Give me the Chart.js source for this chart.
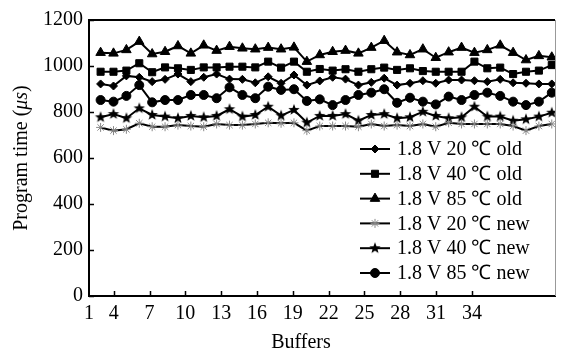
<!DOCTYPE html>
<html>
<head>
<meta charset="utf-8">
<script src="https://cdn.jsdelivr.net/npm/chart.js@4.4.1/dist/chart.umd.min.js"></script>
<style>
  html, body { margin: 0; padding: 0; background: #fff; }
  #wrap { width: 562px; height: 358px; }
</style>
</head>
<body>
<div id="wrap"><canvas id="chart" width="562" height="358"></canvas></div>
<script>
// Buffer index (x) and program time readings (µs)
const buffers = [1, 2, 3, 4, 5, 6, 7, 8, 9, 10, 11, 12, 13, 14, 15, 16, 17, 18,
                 19, 20, 21, 22, 23, 24, 25, 26, 27, 28, 29, 30, 31, 32, 33, 34, 35, 36];
const old20 = [922, 913, 957, 951, 932, 942, 965, 932, 951, 965, 943, 942, 927, 953, 925, 961, 917, 935,
               951, 943, 917, 929, 947, 917, 925, 936, 925, 939, 939, 936, 932, 942, 927, 925, 922, 922];
const old40 = [975, 975, 980, 1012, 973, 994, 990, 983, 994, 994, 997, 997, 994, 1019, 993, 1019, 975, 987,
               980, 986, 975, 986, 993, 983, 990, 978, 975, 975, 975, 1019, 990, 993, 965, 975, 980, 1004];
const old85 = [1058, 1055, 1070, 1106, 1052, 1062, 1087, 1055, 1090, 1067, 1084, 1077, 1073, 1080, 1073, 1081, 1019, 1048,
               1062, 1067, 1055, 1080, 1110, 1060, 1048, 1073, 1036, 1060, 1080, 1058, 1070, 1090, 1058, 1026, 1044, 1038];
const new20 = [733, 719, 725, 751, 736, 736, 743, 739, 736, 748, 743, 743, 748, 753, 751, 753, 719, 739,
               739, 739, 736, 748, 739, 743, 739, 748, 736, 753, 748, 748, 748, 748, 739, 719, 739, 748];
const new40 = [777, 791, 773, 816, 787, 780, 773, 783, 777, 783, 812, 780, 787, 823, 784, 809, 754, 783,
               783, 791, 762, 787, 791, 773, 777, 801, 783, 773, 777, 823, 780, 780, 762, 768, 780, 797];
const new85 = [852, 845, 870, 917, 842, 852, 852, 874, 874, 860, 907, 874, 860, 910, 896, 899, 848, 855,
               830, 852, 874, 884, 899, 840, 862, 845, 833, 867, 852, 874, 884, 870, 845, 830, 845, 884];
const seriesLabels = ['1.8 V 20 ℃ old', '1.8 V 40 ℃ old', '1.8 V 85 ℃ old',
                      '1.8 V 20 ℃ new', '1.8 V 40 ℃ new', '1.8 V 85 ℃ new'];
const xTicks = ['1', '4', '7', '10', '13', '16', '19', '22', '25', '28', '31', '34'];

const FONT = '"Liberation Serif", "Times New Roman", serif';
Chart.defaults.font.family = FONT;
Chart.defaults.font.size = 20;
Chart.defaults.color = '#000';

// filled five point star marker
function makeStar(r) {
    const s = Math.ceil(r * 2 + 2);
    const c = document.createElement('canvas');
    c.width = s; c.height = s;
    const g = c.getContext('2d');
    g.beginPath();
    for (let k = 0; k < 10; k++) {
        const a = -Math.PI / 2 + k * Math.PI / 5;
        const rad = k % 2 ? r * 0.42 : r;
        g.lineTo(s / 2 + rad * Math.cos(a), s / 2 + rad * Math.sin(a));
    }
    g.closePath();
    g.fillStyle = '#000';
    g.fill();
    return c;
}

const styles = [
    { pointStyle: 'rectRot', radius: 4, color: '#000' },
    { pointStyle: 'rect', radius: 5, color: '#000' },
    { pointStyle: 'triangle', radius: 5.5, color: '#000' },
    { pointStyle: 'star', radius: 4.5, color: '#888' },
    { pointStyle: makeStar(6), radius: 6, color: '#000' },
    { pointStyle: 'circle', radius: 4.5, color: '#000' }
];
const values = [old20, old40, old85, new20, new40, new85];

const datasets = values.map((vals, i) => ({
    label: seriesLabels[i],
    data: buffers.map((b, j) => ({ x: b, y: vals[j] })),
    xAxisID: 'xd',
    yAxisID: 'y',
    borderColor: '#000',
    borderWidth: 2,
    pointStyle: styles[i].pointStyle,
    pointRadius: styles[i].radius,
    pointBackgroundColor: styles[i].color,
    pointBorderColor: styles[i].color,
    pointBorderWidth: 1,
    tension: 0
}));

// frame, inside ticks, axis titles and legend
const decor = {
    id: 'decor',
    afterDraw(chart) {
        const { ctx, chartArea: a, scales } = chart;
        ctx.save();
        ctx.strokeStyle = '#000';
        ctx.lineWidth = 2;
        ctx.beginPath();
        ctx.moveTo(a.left - 1, a.top);
        ctx.lineTo(a.right, a.top);
        ctx.stroke();
        ctx.strokeStyle = '#999';
        ctx.lineWidth = 1;
        ctx.beginPath();
        ctx.moveTo(a.right + 0.5, a.top);
        ctx.lineTo(a.right + 0.5, a.bottom);
        ctx.stroke();

        ctx.strokeStyle = '#000';
        ctx.lineWidth = 1.5;
        ctx.beginPath();
        scales.y.ticks.forEach(t => {
            const py = Math.round(scales.y.getPixelForValue(t.value)) + 0.5;
            ctx.moveTo(a.left, py);
            ctx.lineTo(a.left + 5, py);
        });
        scales.x.ticks.slice(1).forEach(t => {
            const px = Math.round(scales.x.getPixelForValue(t.value)) + 0.5;
            ctx.moveTo(px, a.bottom);
            ctx.lineTo(px, a.bottom - 5);
        });
        ctx.stroke();

        // axis titles
        ctx.fillStyle = '#000';
        ctx.textBaseline = 'middle';
        ctx.textAlign = 'center';
        ctx.font = '20px ' + FONT;
        ctx.fillText('Buffers', 301, 343);

        const parts = [['Program time (', ''], ['μs', 'italic '], [')', '']];
        ctx.textAlign = 'left';
        let w = 0;
        parts.forEach(p => { ctx.font = p[1] + '20px ' + FONT; w += ctx.measureText(p[0]).width; });
        ctx.translate(22, 158);
        ctx.rotate(-Math.PI / 2);
        let x = -w / 2;
        parts.forEach(p => {
            ctx.font = p[1] + '20px ' + FONT;
            ctx.fillText(p[0], x, 0);
            x += ctx.measureText(p[0]).width;
        });
        ctx.setTransform(1, 0, 0, 1, 0, 0);

        // legend
        chart.data.datasets.forEach((ds, i) => {
            const y = 149 + i * 24.8;
            ctx.strokeStyle = '#000';
            ctx.lineWidth = 2;
            ctx.beginPath();
            ctx.moveTo(360, y);
            ctx.lineTo(390, y);
            ctx.stroke();
            ctx.fillStyle = ds.pointBackgroundColor;
            ctx.strokeStyle = ds.pointBorderColor;
            ctx.lineWidth = 1;
            Chart.helpers.drawPoint(ctx, { pointStyle: ds.pointStyle, radius: ds.pointRadius, rotation: 0, borderWidth: 1 }, 375, y);
            ctx.fillStyle = '#000';
            ctx.font = '20px ' + FONT;
            ctx.fillText(ds.label, 397, y + 1);
        });
        ctx.restore();
    }
};

new Chart(document.getElementById('chart'), {
    type: 'line',
    data: { datasets },
    options: {
        responsive: false,
        animation: false,
        layout: { padding: { top: 20, right: 2, left: 0, bottom: 0 } },
        plugins: { legend: { display: false }, tooltip: { enabled: false } },
        scales: {
            xd: {
                type: 'linear', display: false,
                min: 0.1, max: 36.25
            },
            x: {
                type: 'linear', position: 'bottom',
                min: 1.93, max: 40.96,
                grid: { display: false, drawTicks: false },
                border: { display: true, color: '#000', width: 2 },
                afterBuildTicks: axis => {
                    axis.ticks = [axis.min].concat(xTicks.slice(1).map(Number)).map(v => ({ value: v }));
                },
                ticks: {
                    padding: 6, autoSkip: false, maxRotation: 0,
                    callback: (v, i) => xTicks[i]
                },
                afterFit: s => { s.height = 62; }
            },
            y: {
                min: 0, max: 1200,
                grid: { display: false, drawTicks: false },
                border: { display: true, color: '#000', width: 2 },
                ticks: { stepSize: 200, padding: 6, callback: v => String(v) },
                afterFit: s => { s.width = 89; }
            }
        }
    },
    plugins: [decor]
});
</script>
</body>
</html>
